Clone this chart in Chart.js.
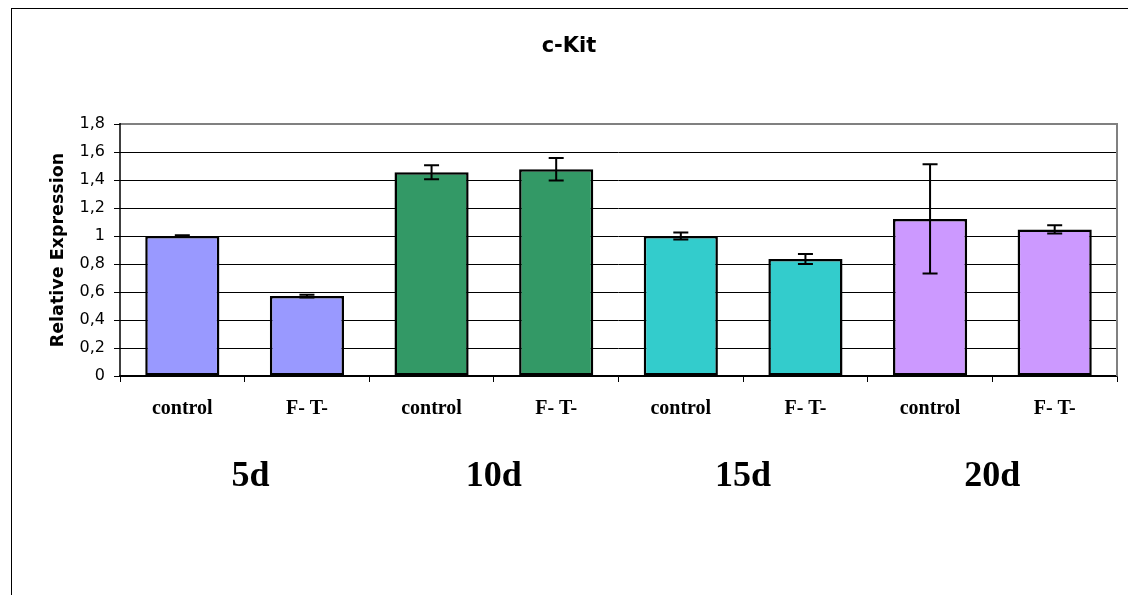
<!DOCTYPE html>
<html>
<head>
<meta charset="utf-8">
<script src="https://cdn.jsdelivr.net/npm/chart.js@4.4.0/dist/chart.umd.min.js"></script>
<style>
  html, body { margin: 0; padding: 0; background: #fff; }
  #wrap { width: 1128px; height: 595px; }
</style>
</head>
<body>
<div id="wrap"><canvas id="myChart" width="1128" height="595"></canvas></div>
<script>
// chart data
const chartTitle = 'c-Kit';
const categories = ['control', 'F- T-', 'control', 'F- T-', 'control', 'F- T-', 'control', 'F- T-'];
const groups = ['5d', '10d', '15d', '20d'];
const values = [1.0, 0.571, 1.455, 1.477, 1.0, 0.836, 1.122, 1.047];
const errors = [0.005, 0.01, 0.05, 0.08, 0.025, 0.036, 0.39, 0.03];
const yTicks = [0, 0.2, 0.4, 0.6, 0.8, 1, 1.2, 1.4, 1.6, 1.8];

const groupColors = ['#9999FF', '#339966', '#33CCCC', '#CC99FF'];
const barColors = categories.map((c, i) => groupColors[Math.floor(i / 2)]);

// outer frame, title, plot area border
const framePlugin = {
  id: 'frame',
  beforeDraw(chart) {
    const ctx = chart.ctx;
    ctx.save();
    ctx.fillStyle = '#fff';
    ctx.fillRect(0, 0, chart.width, chart.height);
    ctx.strokeStyle = '#000';
    ctx.lineWidth = 1;
    ctx.strokeRect(11.5, 8.5, 1300, 800);
    ctx.fillStyle = '#000';
    ctx.font = 'bold 21px "DejaVu Sans", Arial, sans-serif';
    ctx.textAlign = 'center';
    ctx.textBaseline = 'middle';
    ctx.fillText(chartTitle, 569, 47);
    ctx.restore();
  },
  beforeDatasetsDraw(chart) {
    const a = chart.chartArea;
    const ctx = chart.ctx;
    ctx.save();
    ctx.strokeStyle = '#808080';
    ctx.lineWidth = 2;
    ctx.beginPath();
    ctx.moveTo(a.left, a.top);
    ctx.lineTo(a.right, a.top);
    ctx.lineTo(a.right, a.bottom);
    ctx.stroke();
    ctx.strokeStyle = '#000';
    ctx.lineWidth = 1.5;
    ctx.beginPath();
    ctx.moveTo(a.left, a.top - 1);
    ctx.lineTo(a.left, a.bottom);
    ctx.stroke();
    ctx.restore();
  }
};

// error bars drawn from the y scale
const errorBarPlugin = {
  id: 'errorBars',
  afterDatasetsDraw(chart) {
    const ctx = chart.ctx;
    const y = chart.scales.y;
    const meta = chart.getDatasetMeta(0);
    ctx.save();
    ctx.strokeStyle = '#000';
    ctx.lineWidth = 2;
    meta.data.forEach((bar, i) => {
      const top = y.getPixelForValue(values[i] + errors[i]);
      const bot = y.getPixelForValue(values[i] - errors[i]);
      const x = bar.x;
      ctx.beginPath();
      ctx.moveTo(x, top); ctx.lineTo(x, bot);
      ctx.moveTo(x - 7.5, top); ctx.lineTo(x + 7.5, top);
      ctx.moveTo(x - 7.5, bot); ctx.lineTo(x + 7.5, bot);
      ctx.stroke();
    });
    ctx.restore();
  }
};

// group labels (5d, 10d...) under each pair of categories
const groupLabelPlugin = {
  id: 'groupLabels',
  afterDraw(chart) {
    const ctx = chart.ctx;
    const x = chart.scales.x;
    ctx.save();
    ctx.fillStyle = '#000';
    ctx.font = 'bold 36px "Liberation Serif", "Times New Roman", serif';
    ctx.textAlign = 'center';
    ctx.textBaseline = 'middle';
    groups.forEach((g, i) => {
      const cx = (x.getPixelForValue(2 * i) + x.getPixelForValue(2 * i + 1)) / 2;
      ctx.fillText(g, cx + (i === 0 ? 6 : 0), 477);
    });
    ctx.restore();
  }
};

const ctx = document.getElementById('myChart').getContext('2d');
const myChart = new Chart(ctx, {
  type: 'bar',
  data: {
    labels: categories,
    datasets: [{
      data: values,
      backgroundColor: barColors,
      borderColor: '#000',
      borderWidth: 2.5,
      borderSkipped: false,
      categoryPercentage: 1,
      barPercentage: 0.595
    }]
  },
  options: {
    responsive: false,
    animation: false,
    layout: { padding: { left: 0, right: 11, top: 124, bottom: 159 } },
    plugins: {
      legend: { display: false },
      tooltip: { enabled: false },
      title: { display: false }
    },
    scales: {
      x: {
        afterFit: (s) => { s.height = 60; },
        grid: { display: true, drawOnChartArea: false, drawTicks: true, tickLength: 6, color: '#000', offset: true },
        border: { display: true, color: '#000', width: 1.5 },
        ticks: {
          color: '#000',
          padding: 15,
          maxRotation: 0,
          autoSkip: false,
          font: { family: '"Liberation Serif", "Times New Roman", serif', size: 20, weight: 'bold' }
        }
      },
      y: {
        min: 0,
        max: 1.8,
        afterFit: (s) => { s.width = 120; },
        afterBuildTicks: (s) => { s.ticks = yTicks.map(v => ({ value: v })); },
        grid: { color: '#000', lineWidth: 1, tickLength: 6 },
        border: { display: false },
        ticks: {
          color: '#000',
          padding: 9,
          font: { family: '"DejaVu Sans", Arial, sans-serif', size: 16 },
          callback: (v) => String(Math.round(v * 10) / 10).replace('.', ',')
        },
        title: {
          display: true,
          text: 'Relative Expression',
          color: '#000',
          font: { family: '"DejaVu Sans", Arial, sans-serif', size: 17.5, weight: 'bold' },
          padding: { top: 48 }
        }
      }
    }
  },
  plugins: [framePlugin, errorBarPlugin, groupLabelPlugin]
});
</script>
</body>
</html>
